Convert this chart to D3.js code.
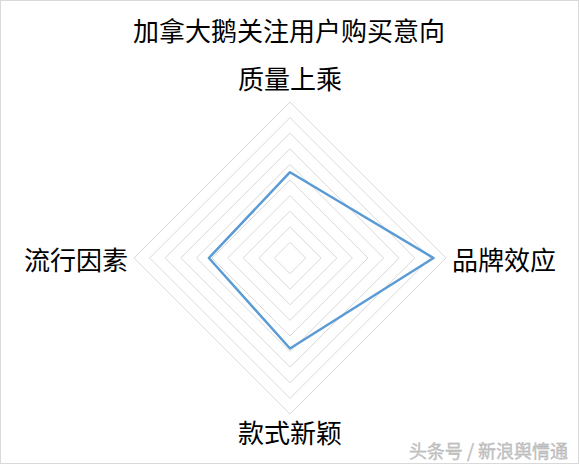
<!DOCTYPE html>
<html><head><meta charset="utf-8">
<script src="https://cdn.jsdelivr.net/npm/d3@7"></script>
<style>
html,body{margin:0;padding:0;background:#fff;}
svg{display:block;}
text{font-family:"Noto Sans CJK SC","Microsoft YaHei",sans-serif;}
</style></head>
<body><svg id="c" width="580" height="466"></svg>
<script>
const title = "加拿大鹅关注用户购买意向";
const categories = ["质量上乘", "品牌效应", "款式新颖", "流行因素"];
const values = [55, 92, 58, 52];
const ringTicks = [10, 20, 30, 40, 50, 60, 70, 80, 90, 100];
const watermark = "头条号 / 新浪舆情通";

const svg = d3.select("#c");
const W = 580, H = 466;
const cx = 290, cy = 258;
const r = d3.scaleLinear().domain([0, 100]).range([0, 156]);
const angle = d3.scaleLinear().domain([0, categories.length]).range([0, 2 * Math.PI]);

svg.append("rect").attr("x", 0.5).attr("y", 0.5).attr("width", W - 2).attr("height", H - 3)
  .attr("fill", "#fff").attr("stroke", "#d9d9d9");

const g = svg.append("g").attr("transform", `translate(${cx},${cy})`);
const pt = (i, v) => [r(v) * Math.sin(angle(i)), -r(v) * Math.cos(angle(i))];

g.selectAll("path.ring").data(ringTicks).join("path")
  .attr("class", "ring")
  .attr("d", t => d3.line()(categories.map((c, i) => pt(i, t))) + "Z")
  .attr("fill", "none").attr("stroke", "#d9d9d9").attr("stroke-width", 1);

g.append("path")
  .attr("d", d3.line()(values.map((v, i) => pt(i, v))) + "Z")
  .attr("fill", "none").attr("stroke", "#5b9bd5").attr("stroke-width", 2.5)
  .attr("stroke-linejoin", "round");

svg.append("text").attr("x", 289).attr("y", 29).attr("text-anchor", "middle")
  .attr("dominant-baseline", "central").attr("font-size", 26).attr("fill", "#000").text(title);

const labelPos = [
  {x: cx, y: 77, a: "middle"},
  {x: 452, y: cy, a: "start"},
  {x: cx, y: 431, a: "middle"},
  {x: 128, y: cy, a: "end"}
];
svg.selectAll("text.lab").data(categories).join("text")
  .attr("class", "lab")
  .attr("x", (d, i) => labelPos[i].x).attr("y", (d, i) => labelPos[i].y)
  .attr("text-anchor", (d, i) => labelPos[i].a)
  .attr("dominant-baseline", "central").attr("font-size", 26).attr("fill", "#000")
  .text(d => d);

svg.append("text").attr("x", 568).attr("y", 450).attr("text-anchor", "end")
  .attr("dominant-baseline", "central").attr("font-size", 18).attr("fill", "#c8c8c8")
  .attr("stroke", "#a8a8a8").attr("stroke-width", 0.3).text(watermark);
</script></body></html>
